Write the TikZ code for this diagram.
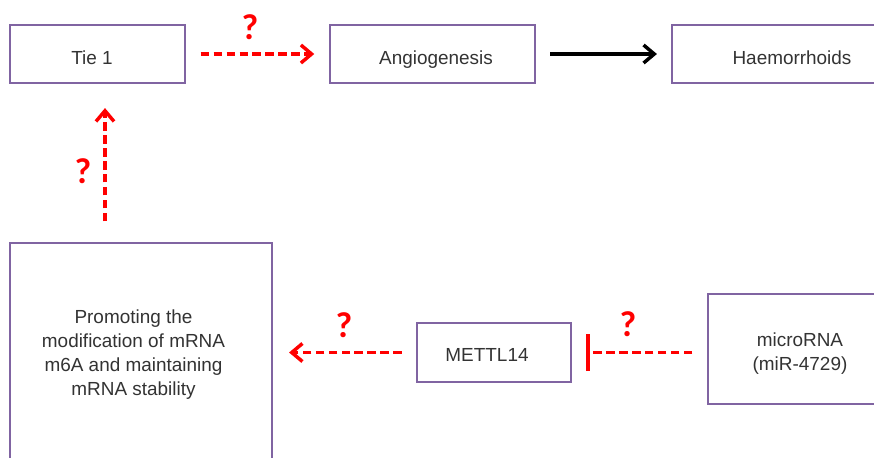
\documentclass[tikz,border=0pt]{standalone}
\usepackage{fontspec}
\setmainfont{Liberation Sans}
\newfontfamily\qfont{Carlito}
\usetikzlibrary{arrows.meta,calc}
\definecolor{boxpurple}{HTML}{8064A2}
\definecolor{txtgray}{HTML}{333333}
\definecolor{qred}{HTML}{FF0000}
\begin{document}
\begin{tikzpicture}[x=0.75pt,y=-0.75pt,
  box/.style={draw=boxpurple,line width=1.6pt,fill=white,inner sep=0pt},
  txt/.style={text=txtgray,align=center,font=\fontsize{14.2pt}{18pt}\selectfont,inner sep=0pt},
  oneline/.style={text height=10.2pt,text depth=0pt},
  redarrow/.style={draw=qred,line width=2.6pt,dash pattern=on 6.5pt off 3.2pt,
    -{Straight Barb[length=8pt,width=13.5pt,line width=2.6pt]}},
  redbar/.style={draw=qred,line width=2.6pt,dash pattern=on 6.5pt off 3.2pt,
    -{Bar[width=28pt,line width=3pt]}},
  blackarrow/.style={draw=black,line width=2.6pt,
    -{Straight Barb[length=8pt,width=13.5pt,line width=2.6pt]}},
  qmark/.style={text=qred,font=\qfont\bfseries\fontsize{27pt}{30pt}\selectfont,inner sep=0pt}]
\useasboundingbox (0,0) rectangle (874,457);
\clip (0,0) rectangle (874,457);
% boxes
\node[box,minimum width=131.25pt,minimum height=43.5pt] (tie) at (97.5,54) {};
\node[box,minimum width=153.75pt,minimum height=43.5pt] (angio) at (432.5,54) {};
\node[box,minimum width=180pt,minimum height=43.5pt] (haem) at (792,54) {};
\node[box,minimum width=196.5pt,minimum height=162.75pt] (promo) at (141,351.5) {};
\node[box,minimum width=115.5pt,minimum height=44.25pt] (mettl) at (494,352.5) {};
\node[box,minimum width=139.5pt,minimum height=82.5pt] (micro) at (801,349) {};
% texts
\node[txt,oneline] (tietxt) at (92,58) {Tie 1};
\node[txt,oneline] (angiotxt) at (436,58) {Angiogenesis};
\node[txt,oneline] (haemtxt) at (792,58) {Haemorrhoids};
\node[txt,oneline] (mettltxt) at (487,355) {METTL14};
\node[txt] (promotxt) at (133.5,354.5)
  {Promoting the\\modification of mRNA\\m6A and maintaining\\mRNA stability};
\node[txt] (microtxt) at (800,353.5) {microRNA\\(miR-4729)};
% connectors
\coordinate (vx) at (105,0);
\draw[redarrow,shorten <=11pt,shorten >=11pt] (tie.east) -- (angio.west);
\draw[blackarrow,shorten <=10.5pt,shorten >=10.5pt] (angio.east) -- (haem.west);
\draw[redarrow,shorten <=15.5pt,shorten >=18pt] (promo.north -| vx) -- (tie.south -| vx);
\draw[redarrow,shorten <=10.5pt,shorten >=12pt] (mettl.west) -- (promo.east |- mettl.west);
\draw[redbar,shorten <=11pt,shorten >=10.5pt] (micro.west |- mettl.east) -- (mettl.east);
% question marks
\node[qmark] (q1) at (250,27) {?};
\node[qmark] (q2) at (83,171) {?};
\node[qmark] (q3) at (344,325) {?};
\node[qmark] (q4) at (628,324) {?};
\end{tikzpicture}
\end{document}
